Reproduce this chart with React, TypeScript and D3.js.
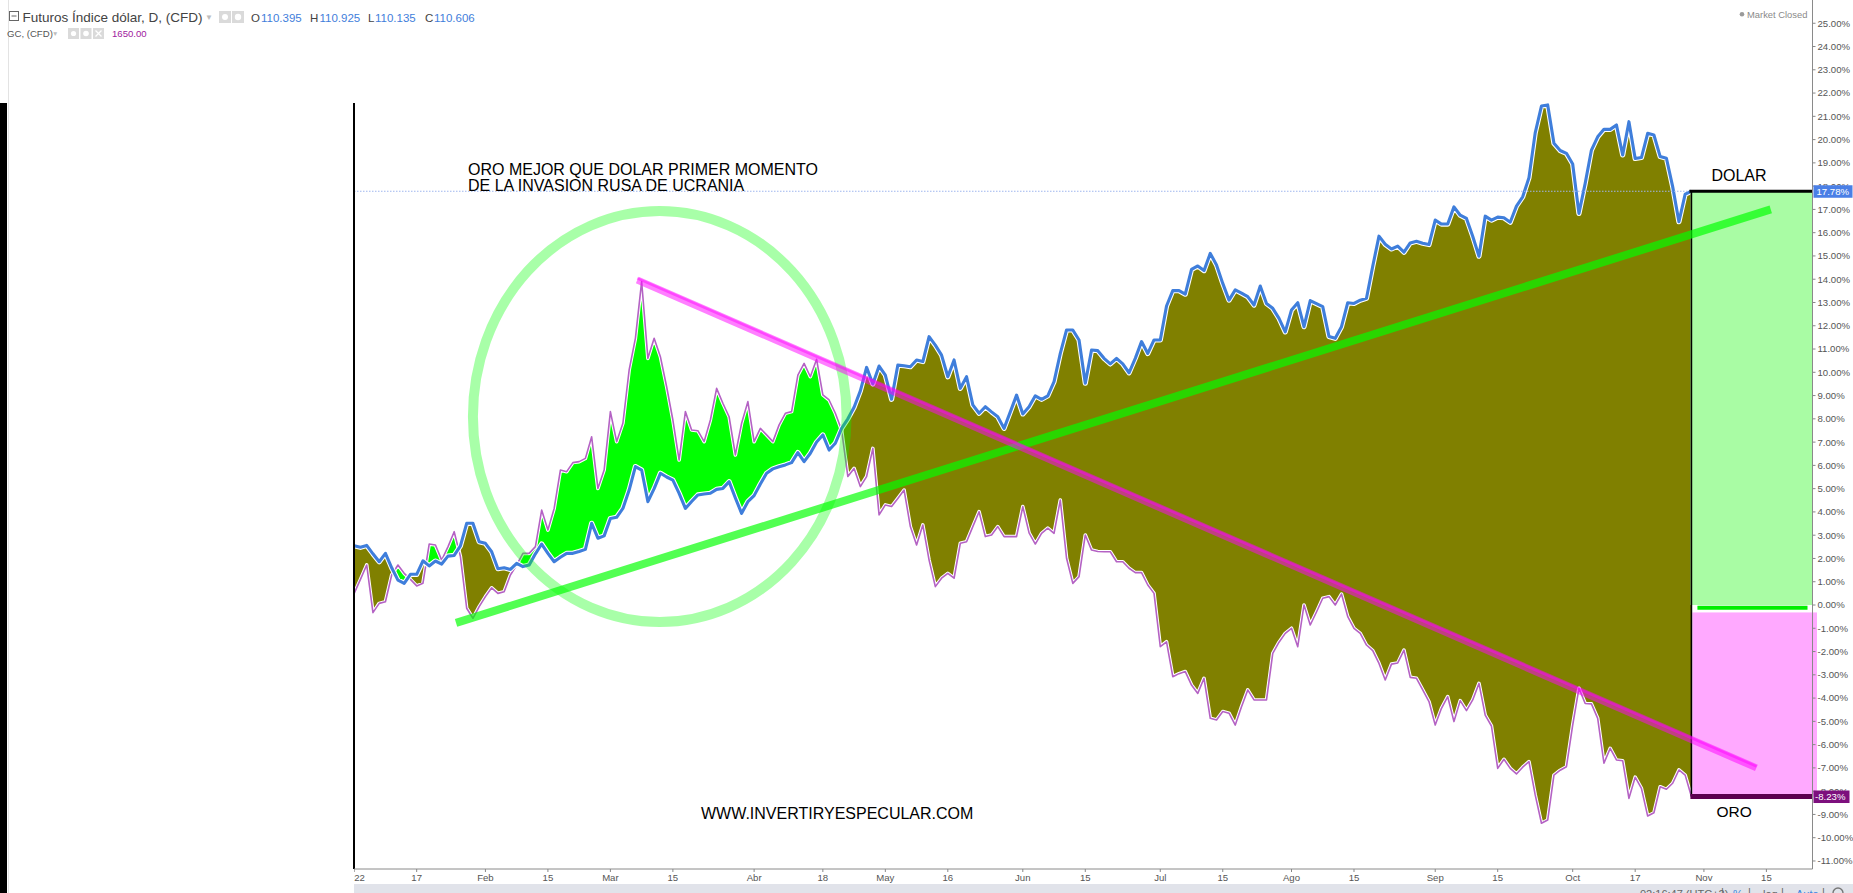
import React from "react";
import * as d3 from "d3";

// ---------- DATA (percent change since 2022-01-03, one value per trading day) ----------
const dollarPct: number[] = [
  2.55, 2.48, 2.56, 2.2, 1.86, 2.22, 1.6, 1.07, 0.93, 1.32,
  1.32, 1.9, 1.68, 1.89, 1.76, 2.1, 2.13, 2.54, 3.51, 3.51,
  2.72, 2.65, 2.29, 1.56, 1.6, 1.53, 1.79, 1.65, 1.72, 2.2,
  2.62, 2.22, 1.86, 2.05, 2.22, 2.22, 2.3, 2.39, 3.51, 2.87,
  2.97, 3.72, 3.77, 4.15, 4.94, 5.95, 5.8, 4.44, 5.0, 5.66,
  5.5, 5.37, 4.8, 4.15, 4.45, 4.73, 4.77, 4.8, 4.97, 5.01,
  5.3, 4.6, 3.94, 4.44, 4.7, 5.2, 5.66, 5.85, 5.94, 6.02,
  6.12, 6.55, 6.16, 6.52, 7.0, 7.31, 6.66, 6.95, 7.59, 8.0,
  8.5, 9.2, 10.21, 9.5, 10.27, 9.88, 8.84, 10.31, 10.28, 10.24,
  10.53, 10.46, 11.53, 11.17, 10.74, 9.81, 10.53, 9.31, 9.81, 8.6,
  8.24, 8.52, 8.3, 8.09, 7.59, 8.3, 9.02, 8.21, 8.52, 8.99,
  8.84, 8.99, 9.6, 10.81, 11.82, 11.82, 11.39, 9.53, 10.96, 10.93,
  10.6, 10.36, 10.6, 10.36, 9.98, 10.6, 11.32, 10.81, 11.39, 11.39,
  12.85, 13.51, 13.51, 13.36, 14.42, 14.57, 14.37, 15.11, 14.61, 13.82,
  13.1, 13.54, 13.4, 13.25, 12.89, 13.71, 12.96, 12.75, 12.32, 11.74,
  12.68, 12.99, 11.96, 13.08, 12.95, 12.82, 11.54, 11.46, 11.96, 12.99,
  12.96, 13.1, 13.18, 14.56, 15.85, 15.5, 15.3, 15.42, 15.16, 15.56,
  15.63, 15.55, 15.49, 16.54, 16.37, 16.37, 17.11, 16.75, 16.61, 15.85,
  14.99, 16.71, 16.54, 16.67, 16.64, 16.45, 17.14, 17.54, 18.36, 20.29,
  21.44, 21.49, 19.84, 19.53, 19.41, 18.95, 16.83, 18.12, 19.55, 20.12,
  20.44, 20.44, 20.63, 19.34, 20.77, 19.19, 19.23, 20.27, 20.2, 19.27,
  19.2, 17.98, 16.47, 17.66, 17.78,
];

const goldPct: number[] = [
  0.5, 1.1, 1.72, -0.33, 0.07, 0.14, 1.29, 1.72, 1.36, 1.1,
  0.82, 0.93, 2.62, 2.58, 1.93, 2.5, 3.15, 2.08, -0.14, -0.57,
  -0.07, 0.36, 0.74, 0.5, 0.57, 1.29, 1.72, 2.22, 2.22, 2.51,
  4.08, 3.22, 4.15, 5.8, 5.73, 6.12, 6.16, 6.3, 7.23, 5.01,
  5.8, 8.31, 7.02, 7.81, 10.1, 11.46, 13.9, 10.6, 11.46, 10.67,
  9.38, 7.95, 6.23, 8.31, 7.52, 7.49, 7.02, 7.95, 9.31, 8.67,
  8.09, 6.45, 7.81, 8.74, 7.02, 7.59, 7.31, 7.02, 7.74, 8.24,
  8.31, 9.88, 10.38, 9.81, 10.56, 9.03, 8.81, 8.24, 7.52, 5.52,
  5.87, 5.09, 5.52, 6.73, 3.87, 4.3, 4.23, 4.58, 4.94, 3.37,
  2.58, 3.44, 1.93, 0.79, 1.15, 1.36, 1.15, 2.65, 2.72, 3.37,
  4.01, 2.94, 3.01, 3.37, 2.94, 2.94, 2.94, 4.23, 3.1, 2.62,
  3.08, 3.3, 3.08, 4.51, 2.01, 0.93, 1.22, 3.01, 2.36, 2.3,
  2.29, 2.29, 1.86, 1.86, 1.58, 1.39, 1.39, 0.86, 0.5, -1.79,
  -1.58, -3.08, -2.95, -2.86, -3.44, -3.8, -3.15, -4.87, -4.94, -4.58,
  -4.65, -5.16, -4.37, -3.65, -4.08, -4.08, -4.08, -2.08, -1.6, -1.22,
  -1.0, -1.79, 0.0, -0.86, -0.3, 0.29, 0.36, 0.0, 0.47, -0.5,
  -1.0, -1.22, -1.72, -1.96, -2.51, -3.22, -2.54, -2.49, -1.94, -3.11,
  -3.15, -3.65, -4.15, -5.16, -4.44, -3.94, -5.01, -4.11, -4.54, -4.08,
  -3.37, -4.73, -5.2, -7.02, -6.63, -7.02, -7.26, -6.97, -6.73, -8.16,
  -9.38, -9.24, -7.31, -7.1, -6.95, -5.16, -3.58, -4.23, -4.25, -4.87,
  -6.8, -6.16, -6.66, -6.69, -8.31, -7.4, -7.88, -9.07, -8.93, -7.81,
  -7.92, -7.66, -7.09, -7.31, -8.23,
];

const firstDay = "2022-01-03";
const tickDates = [
  "2022-01-03", "2022-01-17", "2022-02-01", "2022-02-15", "2022-03-01", "2022-03-15",
  "2022-04-01", "2022-04-18", "2022-05-02", "2022-05-16", "2022-06-01", "2022-06-15",
  "2022-07-01", "2022-07-15", "2022-08-01", "2022-08-15", "2022-09-01", "2022-09-15",
  "2022-10-03", "2022-10-17", "2022-11-01", "2022-11-15",
];
const tickLabels = [
  "2022", "17", "Feb", "15", "Mar", "15", "Abr", "18", "May", "16", "Jun", "15",
  "Jul", "15", "Ago", "15", "Sep", "15", "Oct", "17", "Nov", "15",
];
const yTickValues = [
  -11, -10, -9, -8, -7, -6, -5, -4, -3, -2, -1, 0, 1, 2, 3, 4, 5, 6, 7, 8, 9, 10, 11, 12,
  13, 14, 15, 16, 17, 18, 19, 20, 21, 22, 23, 24, 25,
];
const lastDollar = 17.78;
const lastGold = -8.23;

// annotation anchors in data space: [trading-day index, percent]
const greenTrend: [number, number][] = [[16.3, -0.77], [226.7, 17.0]];
const pinkTrend: [number, number][] = [[45.3, 13.97], [224.4, -7.0]];
const circleCenter: [number, number] = [48.9, 8.1];
const circleRadius: [number, number] = [29.9, 8.83]; // days, percent

const header = {
  title: "Futuros Índice dólar, D, (CFD)",
  o: "110.395", h: "110.925", l: "110.135", c: "110.606",
  sub: "GC, (CFD)", subVal: "1650.00",
};

const W = 1853;
const H = 893;

export default function App() {
  const parse = d3.timeParse("%Y-%m-%d");
  const start = parse(firstDay)!;
  const tradingDays = d3.timeDay
    .range(start, parse("2022-12-31")!)
    .filter((d) => d.getDay() !== 0 && d.getDay() !== 6);
  const dayIndex = (s: string) => {
    const t = +parse(s)!;
    return tradingDays.findIndex((d) => +d === t);
  };

  const x = d3.scaleLinear().domain([0, 226]).range([354.2, 1766.4]);
  const y = d3.scaleLinear().domain([0, 25]).range([605, 23.25]);

  const plotLeft = 354;
  const axisX = 1812.5;
  const axisY = 869;

  const n = dollarPct.length;
  const idx = d3.range(n);

  const lineDollar = d3.line<number>().x((i) => x(i)).y((i) => y(dollarPct[i]))(idx)!;
  const lineGold = d3.line<number>().x((i) => x(i)).y((i) => y(goldPct[i]))(idx)!;

  const aboveDollar = d3.area<number>().x((i) => x(i)).y0(0).y1((i) => y(dollarPct[i]))(idx)!;
  const belowDollar = d3.area<number>().x((i) => x(i)).y0(H).y1((i) => y(dollarPct[i]))(idx)!;
  const aboveGold = d3.area<number>().x((i) => x(i)).y0(0).y1((i) => y(goldPct[i]))(idx)!;
  const belowGold = d3.area<number>().x((i) => x(i)).y0(H).y1((i) => y(goldPct[i]))(idx)!;

  const lastX = x(n - 1);
  const yD = y(lastDollar);
  const yG = y(lastGold);
  const y0 = y(0);

  const trendPath = (pts: [number, number][]) =>
    d3.line<[number, number]>().x((p) => x(p[0])).y((p) => y(p[1]))(pts)!;

  const cx = x(circleCenter[0]);
  const cy = y(circleCenter[1]);
  const rx = x(circleCenter[0] + circleRadius[0]) - cx;
  const ry = cy - y(circleCenter[1] + circleRadius[1]);

  const axisFont = "'Liberation Sans', Arial, sans-serif";

  return (
    <div style={{ position: "fixed", left: 0, top: 0, width: W, height: H, overflow: "hidden", background: "#fff" }}>
      <svg width={W} height={H} style={{ display: "block" }}>
        <defs>
          <clipPath id="clipAboveDollar"><path d={aboveDollar} /></clipPath>
          <clipPath id="clipAboveGold"><path d={aboveGold} /></clipPath>
          <clipPath id="plotClip"><rect x={plotLeft} y={0} width={axisX - plotLeft} height={H} /></clipPath>
        </defs>
        <rect x={0} y={0} width={W} height={H} fill="#ffffff" />

        {/* fills between series */}
        <path d={belowGold} fill="#00ff00" clipPath="url(#clipAboveDollar)" />
        <path d={belowDollar} fill="#808000" clipPath="url(#clipAboveGold)" />

        {/* series lines */}
        <path d={lineGold} fill="none" stroke="#ffffff" strokeWidth={3.6} strokeLinejoin="round" />
        <path d={lineGold} fill="none" stroke="#b462c4" strokeWidth={1.6} strokeLinejoin="round" />
        <path d={lineDollar} fill="none" stroke="#ffffff" strokeWidth={5.2} strokeLinejoin="round" />
        <path d={lineDollar} fill="none" stroke="#3f7edb" strokeWidth={3.1} strokeLinejoin="round" />

        {/* last value dotted line */}
        <line x1={plotLeft} x2={axisX} y1={yD} y2={yD} stroke="#9fb6ee" strokeWidth={1} strokeDasharray="1.5,1.5" />

        {/* result boxes */}
        <rect x={lastX - 1} y={yD} width={axisX - lastX + 1} height={y0 - yD} fill="#a9fca4" />
        <rect x={lastX + 1} y={y(-0.32)} width={axisX - lastX + 3.5} height={yG - y(-0.32)} fill="#ffa9ff" />
        <line x1={lastX + 6} x2={axisX - 5} y1={y(-0.12)} y2={y(-0.12)} stroke="#00ee00" strokeWidth={4} />
        <line x1={lastX - 2} x2={axisX} y1={yD} y2={yD} stroke="#000" strokeWidth={3} />
        <line x1={lastX} x2={lastX} y1={yD} y2={yG} stroke="#000" strokeWidth={1.6} />
        <line x1={lastX - 1} x2={axisX} y1={yG} y2={yG} stroke="#5c0050" strokeWidth={5} />

        {/* circle */}
        <ellipse cx={cx} cy={cy} rx={rx} ry={ry} fill="none" stroke="#00ff00" strokeOpacity={0.34} strokeWidth={10} />

        {/* trend lines */}
        <path d={trendPath(greenTrend)} stroke="#00ff00" strokeOpacity={0.68} strokeWidth={8} fill="none" />
        <path d={trendPath(pinkTrend)} stroke="#ff00ff" strokeOpacity={0.5} strokeWidth={7} fill="none" />
        <path d={trendPath(pinkTrend)} transform="translate(0,-1.5)" stroke="#ff00ff" strokeOpacity={0.45} strokeWidth={2.5} fill="none" />

        {/* annotation texts */}
        <g fontFamily={axisFont} fontSize={16} fill="#000">
          <text x={468} y={175}>ORO MEJOR QUE DOLAR PRIMER MOMENTO</text>
          <text x={468} y={190.5}>DE LA INVASION RUSA DE UCRANIA</text>
          <text x={701} y={819}>WWW.INVERTIRYESPECULAR.COM</text>
          <text x={lastX + 20} y={181}>DOLAR</text>
          <text x={lastX + 25} y={817} fontSize={15.5}>ORO</text>
        </g>

        {/* left frame pieces */}
        <rect x={0} y={103} width={7} height={H - 103} fill="#000" />
        <line x1={8.5} x2={8.5} y1={0} y2={H} stroke="#e3e3e3" strokeWidth={1} />
        <line x1={plotLeft} x2={plotLeft} y1={103} y2={axisY} stroke="#000" strokeWidth={2} />

        {/* right price axis */}
        <line x1={axisX} x2={axisX} y1={0} y2={axisY} stroke="#8a8a8a" strokeWidth={1} />
        <g fontFamily={axisFont} fontSize={9.6} fill="#555">
          {yTickValues.map((v) => (
            <g key={v}>
              <line x1={axisX} x2={axisX + 3} y1={y(v)} y2={y(v)} stroke="#888" />
              <text x={axisX + 5} y={y(v) + 3.4}>{v.toFixed(2)}%</text>
            </g>
          ))}
        </g>
        <rect x={axisX + 1} y={yD - 6} width={39} height={12.5} fill="#4a7fe6" />
        <text x={axisX + 4} y={yD + 3.6} fontFamily={axisFont} fontSize={9.6} fill="#fff">{lastDollar.toFixed(2)}%</text>
        <rect x={axisX + 1} y={yG - 6} width={36} height={12.5} fill="#7d0f7d" />
        <text x={axisX + 2.5} y={yG + 3.6} fontFamily={axisFont} fontSize={9.6} fill="#fff">{lastGold.toFixed(2)}%</text>

        {/* bottom time axis */}
        <line x1={plotLeft} x2={axisX} y1={axisY} y2={axisY} stroke="#8a8a8a" strokeWidth={1} />
        <g fontFamily={axisFont} fontSize={9.6} fill="#555" clipPath="url(#plotClip)">
          {tickDates.map((dstr, k) => {
            const xi = x(dayIndex(dstr));
            return (
              <g key={dstr}>
                <line x1={xi} x2={xi} y1={axisY} y2={axisY + 3} stroke="#888" />
                <text x={xi} y={axisY + 12} textAnchor="middle">{tickLabels[k]}</text>
              </g>
            );
          })}
        </g>

        {/* bottom toolbar (cut) */}
        <rect x={plotLeft} y={884} width={W - plotLeft} height={H - 884} fill="#e1e3ea" />
        <g fontFamily={axisFont} fontSize={11} fill="#666">
          <text x={1640} y={897.5}>02:16:47 (UTC+2)</text>
          <text x={1721} y={896}>|</text>
          <text x={1733} y={897.5} fill="#3d86e0">%</text>
          <text x={1748} y={896}>|</text>
          <text x={1763} y={897.5}>log</text>
          <text x={1781} y={896}>|</text>
          <text x={1796} y={897.5} fill="#3d86e0">Auto</text>
          <text x={1822} y={896}>|</text>
          <circle cx={1838} cy={893} r={5} fill="none" stroke="#777" strokeWidth={1.4} />
        </g>

        {/* header */}
        <rect x={9.5} y={11.5} width={9} height={9} fill="none" stroke="#666" strokeWidth={1} />
        <line x1={11.5} x2={16.5} y1={16} y2={16} stroke="#666" strokeWidth={1} />
        <g fontFamily={axisFont}>
          <text x={22.5} y={21.5} fontSize={13.5} fill="#434343">{header.title}</text>
          <text x={205} y={20} fontSize={8} fill="#bdbdbd">▼</text>
          <rect x={219} y={11} width={12} height={12} fill="#dadada" />
          <circle cx={225} cy={17} r={3} fill="#fff" />
          <rect x={232} y={11} width={12} height={12} fill="#dadada" />
          <circle cx={238} cy={17} r={3.2} fill="#fff" />
          <text x={251} y={21.5} fontSize={11.5} fill="#434343">O</text>
          <text x={261} y={21.5} fontSize={11.5} fill="#3f7edb">{header.o}</text>
          <text x={310} y={21.5} fontSize={11.5} fill="#434343">H</text>
          <text x={319.5} y={21.5} fontSize={11.5} fill="#3f7edb">{header.h}</text>
          <text x={368} y={21.5} fontSize={11.5} fill="#434343">L</text>
          <text x={375} y={21.5} fontSize={11.5} fill="#3f7edb">{header.l}</text>
          <text x={425} y={21.5} fontSize={11.5} fill="#434343">C</text>
          <text x={434} y={21.5} fontSize={11.5} fill="#3f7edb">{header.c}</text>

          <text x={7} y={37} fontSize={9.6} fill="#555">{header.sub}</text>
          <text x={52} y={36} fontSize={6.5} fill="#bdbdbd">▼</text>
          <rect x={68} y={28} width={11} height={11} fill="#dadada" />
          <circle cx={73.5} cy={33.5} r={2.6} fill="#fff" />
          <rect x={80.5} y={28} width={11} height={11} fill="#dadada" />
          <circle cx={86} cy={33.5} r={2.8} fill="#fff" />
          <rect x={93} y={28} width={11} height={11} fill="#dadada" />
          <path d="M95.5,30.5 L101.5,36.5 M101.5,30.5 L95.5,36.5" stroke="#fff" strokeWidth={1.3} />
          <text x={112} y={37} fontSize={9.6} fill="#a0209e">{header.subVal}</text>

          <circle cx={1742} cy={14.3} r={2.3} fill="#9a9a9a" />
          <text x={1747} y={17.8} fontSize={9.4} fill="#8a8a8a">Market Closed</text>
        </g>
      </svg>
    </div>
  );
}
